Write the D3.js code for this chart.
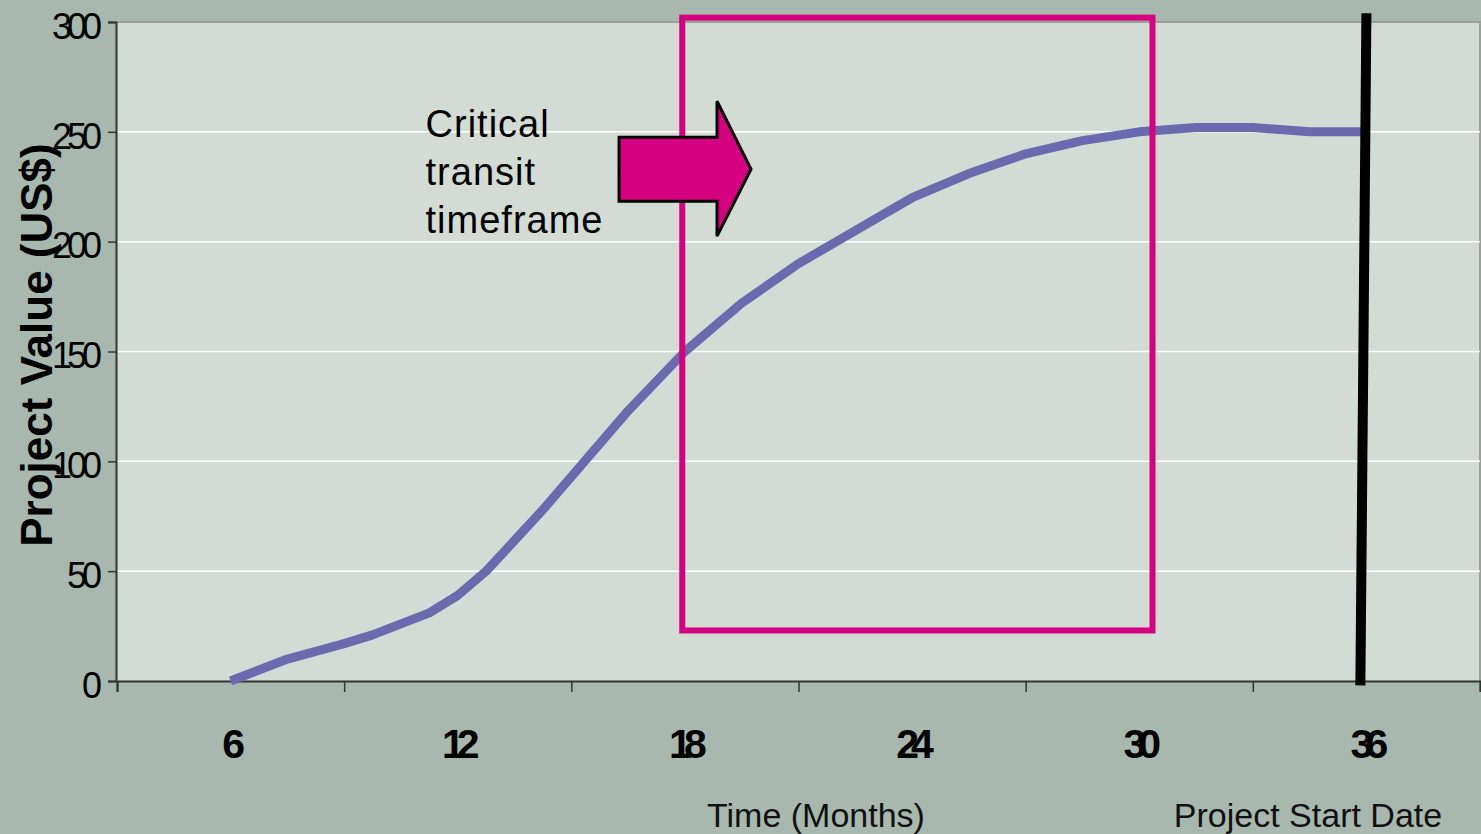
<!DOCTYPE html>
<html>
<head>
<meta charset="utf-8">
<script src="https://cdn.jsdelivr.net/npm/d3@7"></script>
<style>
  html, body { margin: 0; padding: 0; background: #a8b8ae; }
  svg { display: block; }
</style>
</head>
<body>
<svg id="chart" width="1481" height="834"></svg>
<script>
// Project value curve over time (months)
const months = [6, 7.5, 9, 9.75, 11.25, 12, 12.75, 14.25, 16.5, 18, 19.5, 21, 22.5, 24, 25.5, 27, 28.5, 30, 31.5, 33, 34.5, 36];
const values = [0, 10, 17, 21, 31, 39, 50, 78, 123, 150, 172, 190, 205, 220, 231, 240, 246, 250, 252, 252, 250, 250];

// Axis ticks and labels
const xTickMarks = [3, 9, 15, 21, 27, 33, 39];
const xTickLabels = [6, 12, 18, 24, 30, 36];
const yTicks = [0, 50, 100, 150, 200, 250, 300];

// Critical transit window (months, value range) and project start marker
const windowMonths = [17.93, 30.35];
const windowValues = [23, 302];
const startMarkerMonths = [36, 35.84];
const startMarkerValues = [304, -2];

const svg = d3.select("#chart");
const W = 1481, H = 834;
const plot = { left: 117, right: 1480, top: 22, bottom: 681 };

const x = d3.scaleLinear().domain([3, 39]).range([plot.left, plot.right]);
const y = d3.scaleLinear().domain([0, 300]).range([plot.bottom, plot.top]);

svg.append("rect").attr("width", W).attr("height", H).attr("fill", "#a8b8ae");

// plot area
svg.append("rect")
  .attr("x", plot.left).attr("y", plot.top)
  .attr("width", plot.right - plot.left).attr("height", plot.bottom - plot.top)
  .attr("fill", "#d2dcd4");

// top and right frame
svg.append("path")
  .attr("d", `M${plot.left},${plot.top}H${plot.right}V${plot.bottom}`)
  .attr("fill", "none").attr("stroke", "#9a9f9b").attr("stroke-width", 2);

// horizontal gridlines
svg.append("g").selectAll("line")
  .data(yTicks.filter(d => d > 0 && d < 300))
  .join("line")
  .attr("x1", plot.left).attr("x2", plot.right)
  .attr("y1", d => y(d)).attr("y2", d => y(d))
  .attr("stroke", "#ffffff").attr("stroke-width", 1.5);

// y axis
const yAxis = svg.append("g")
  .attr("transform", `translate(${plot.left - 1},0)`)
  .call(d3.axisLeft(y).tickValues(yTicks).tickSize(8).tickPadding(11).tickFormat(d3.format("d")));
yAxis.select(".domain").attr("stroke", "#333").attr("stroke-width", 2);
yAxis.selectAll(".tick line").attr("stroke", "#333").attr("stroke-width", 1.5);
yAxis.selectAll(".tick text")
  .attr("fill", "#000")
  .attr("font-family", "'Liberation Sans', Arial, sans-serif")
  .attr("font-size", 36)
  .attr("letter-spacing", "-5px")
  .attr("dy", "0.45em");

// x axis (tick marks between month labels)
const xAxis = svg.append("g")
  .attr("transform", `translate(0,${plot.bottom})`)
  .call(d3.axisBottom(x).tickValues(xTickMarks).tickSize(11).tickFormat(""));
xAxis.select(".domain").attr("stroke", "#333").attr("stroke-width", 2);
xAxis.selectAll(".tick line").attr("stroke", "#333").attr("stroke-width", 1.5);

svg.append("g").selectAll("text")
  .data(xTickLabels)
  .join("text")
  .attr("x", d => x(d) - 1)
  .attr("y", 758)
  .attr("text-anchor", "middle")
  .attr("font-family", "'Liberation Sans', Arial, sans-serif")
  .attr("font-weight", "bold")
  .attr("font-size", 41)
  .attr("letter-spacing", "-8px")
  .text(d => d);

// axis titles
svg.append("text")
  .attr("transform", "translate(52,345) rotate(-90)")
  .attr("text-anchor", "middle")
  .attr("font-family", "'Liberation Sans', Arial, sans-serif")
  .attr("font-weight", "bold")
  .attr("font-size", 44)
  .text("Project Value (US$)");

svg.append("text")
  .attr("x", 816).attr("y", 827)
  .attr("text-anchor", "middle")
  .attr("font-family", "'Liberation Sans', Arial, sans-serif")
  .attr("font-size", 34)
  .attr("fill", "#111")
  .text("Time (Months)");

svg.append("text")
  .attr("x", 1308).attr("y", 827)
  .attr("text-anchor", "middle")
  .attr("font-family", "'Liberation Sans', Arial, sans-serif")
  .attr("font-size", 34)
  .attr("fill", "#111")
  .text("Project Start Date");

// value curve
const data = months.map((m, i) => ({ m, v: values[i] }));
svg.append("path")
  .datum(data)
  .attr("fill", "none")
  .attr("stroke", "#6a6aae")
  .attr("stroke-width", 9)
  .attr("stroke-linejoin", "round")
  .attr("d", d3.line().x(d => x(d.m)).y(d => y(d.v)));

// critical transit window
svg.append("rect")
  .attr("x", x(windowMonths[0])).attr("y", y(windowValues[1]))
  .attr("width", x(windowMonths[1]) - x(windowMonths[0]))
  .attr("height", y(windowValues[0]) - y(windowValues[1]))
  .attr("fill", "none")
  .attr("stroke", "#d5007f")
  .attr("stroke-width", 6);

// block arrow pointing into the window
const ax = x(16.26), ay = y(233);
const arrowShape = [[0, -32], [98, -32], [98, -68], [132, 0], [98, 67], [98, 32], [0, 32]];
svg.append("polygon")
  .attr("points", arrowShape.map(p => [ax + p[0], ay + p[1]].join(",")).join(" "))
  .attr("fill", "#d5007f")
  .attr("stroke", "#000")
  .attr("stroke-width", 3)
  .attr("stroke-linejoin", "miter");

// annotation text
const note = svg.append("text")
  .attr("font-family", "'Liberation Sans', Arial, sans-serif")
  .attr("font-size", 38)
  .attr("letter-spacing", "1px")
  .attr("fill", "#000");
["Critical", "transit", "timeframe"].forEach((t, i) => {
  note.append("tspan").attr("x", x(11.15)).attr("y", 137 + i * 48).text(t);
});

// project start marker
svg.append("line")
  .attr("x1", x(startMarkerMonths[0])).attr("y1", y(startMarkerValues[0]))
  .attr("x2", x(startMarkerMonths[1])).attr("y2", y(startMarkerValues[1]))
  .attr("stroke", "#000")
  .attr("stroke-width", 10);
</script>
</body>
</html>
